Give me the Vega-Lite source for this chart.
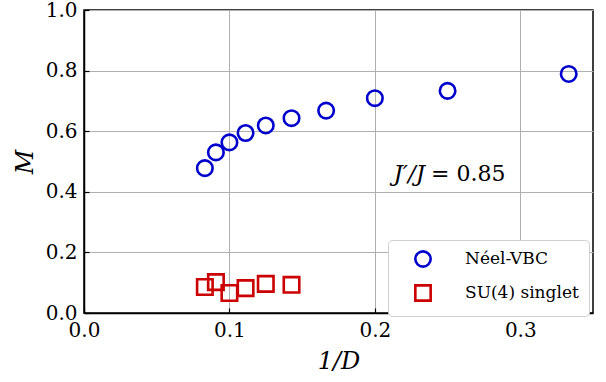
{
  "$schema": "https://vega.github.io/schema/vega-lite/v6.json",
  "width": 509,
  "height": 303,
  "autosize": "none",
  "padding": {"left": 84, "top": 10, "right": 13, "bottom": 69},
  "background": "white",
  "config": {
    "font": "DejaVu Serif",
    "view": {"stroke": "black", "strokeWidth": 1.5},
    "axis": {"labelFont": "DejaVu Serif", "titleFont": "DejaVu Serif", "labelColor": "black", "titleColor": "black", "titleFontWeight": "normal", "domainColor": "black", "domainWidth": 1.5, "tickColor": "black", "tickWidth": 1.2, "tickSize": -5, "labelFlush": false, "labelOverlap": false, "labelFontSize": 20, "titleFontSize": 24}
  },
  "datasets": {
    "points": [
      {"x": 0.0831, "M": 0.478, "series": "Néel-VBC"},
      {"x": 0.0907, "M": 0.530, "series": "Néel-VBC"},
      {"x": 0.1000, "M": 0.563, "series": "Néel-VBC"},
      {"x": 0.1111, "M": 0.594, "series": "Néel-VBC"},
      {"x": 0.1250, "M": 0.619, "series": "Néel-VBC"},
      {"x": 0.1427, "M": 0.643, "series": "Néel-VBC"},
      {"x": 0.1665, "M": 0.668, "series": "Néel-VBC"},
      {"x": 0.2000, "M": 0.709, "series": "Néel-VBC"},
      {"x": 0.2500, "M": 0.733, "series": "Néel-VBC"},
      {"x": 0.3333, "M": 0.789, "series": "Néel-VBC"},
      {"x": 0.0831, "M": 0.086, "series": "SU(4) singlet"},
      {"x": 0.0907, "M": 0.102, "series": "SU(4) singlet"},
      {"x": 0.1000, "M": 0.066, "series": "SU(4) singlet"},
      {"x": 0.1111, "M": 0.082, "series": "SU(4) singlet"},
      {"x": 0.1250, "M": 0.096, "series": "SU(4) singlet"},
      {"x": 0.1427, "M": 0.093, "series": "SU(4) singlet"}
    ],
    "notes": [
      {"x": 0.2345, "M": 0.434, "left": "J′/J", "right": "= 0.85"}
    ]
  },
  "layer": [
    {
      "data": {"name": "points"},
      "mark": {"type": "point", "filled": false, "strokeWidth": 2.6, "opacity": 1, "size": 240},
      "encoding": {
        "x": {
          "field": "x", "type": "quantitative",
          "scale": {"domain": [0, 0.35], "nice": false, "zero": false},
          "axis": {"orient": "bottom", "values": [0, 0.1, 0.2, 0.3], "format": ".1f", "grid": true, "gridColor": "#b0b0b0", "gridWidth": 1, "labelFontSize": 20, "labelPadding": 12, "title": "1/D", "titleFontSize": 24, "titleFontStyle": "italic", "titlePadding": 9}
        },
        "y": {
          "field": "M", "type": "quantitative",
          "scale": {"domain": [0, 1], "nice": false, "zero": false},
          "axis": {"orient": "left", "values": [0, 0.2, 0.4, 0.6, 0.8, 1.0], "format": ".1f", "grid": true, "gridColor": "#b0b0b0", "gridWidth": 1, "labelFontSize": 20, "labelPadding": 12, "title": "M", "titleFontSize": 24, "titleFontStyle": "italic", "titlePadding": 8}
        },
        "color": {
          "field": "series", "type": "nominal",
          "scale": {"domain": ["Néel-VBC", "SU(4) singlet"], "range": ["#0000CD", "#CC0000"]},
          "legend": {"title": null, "orient": "none", "legendX": 304, "legendY": 230, "fillColor": "white", "strokeColor": "#d0d0d0", "cornerRadius": 4, "padding": 10, "labelFont": "DejaVu Serif", "labelFontSize": 17, "labelColor": "black", "labelOffset": 33, "symbolSize": 235, "symbolStrokeWidth": 2.6, "symbolOffset": 16, "rowPadding": 8, "symbolFillColor": "transparent"}
        },
        "shape": {
          "field": "series", "type": "nominal",
          "scale": {"domain": ["Néel-VBC", "SU(4) singlet"], "range": ["circle", "square"]},
          "legend": {"title": null, "orient": "none", "legendX": 304, "legendY": 230, "fillColor": "white", "strokeColor": "#d0d0d0", "cornerRadius": 4, "padding": 10, "labelFont": "DejaVu Serif", "labelFontSize": 17, "labelColor": "black", "labelOffset": 33, "symbolSize": 235, "symbolStrokeWidth": 2.6, "symbolOffset": 16, "rowPadding": 8, "symbolFillColor": "transparent"}
        }
      }
    },
    {
      "data": {"name": "notes"},
      "mark": {"type": "text", "align": "right", "baseline": "alphabetic", "fontSize": 23, "fontStyle": "italic", "font": "DejaVu Serif", "color": "black"},
      "encoding": {
        "x": {"field": "x", "type": "quantitative"},
        "y": {"field": "M", "type": "quantitative"},
        "text": {"field": "left"}
      }
    },
    {
      "data": {"name": "notes"},
      "mark": {"type": "text", "align": "left", "baseline": "alphabetic", "dx": 6, "fontSize": 22, "font": "DejaVu Serif", "color": "black"},
      "encoding": {
        "x": {"field": "x", "type": "quantitative"},
        "y": {"field": "M", "type": "quantitative"},
        "text": {"field": "right"}
      }
    }
  ]
}
